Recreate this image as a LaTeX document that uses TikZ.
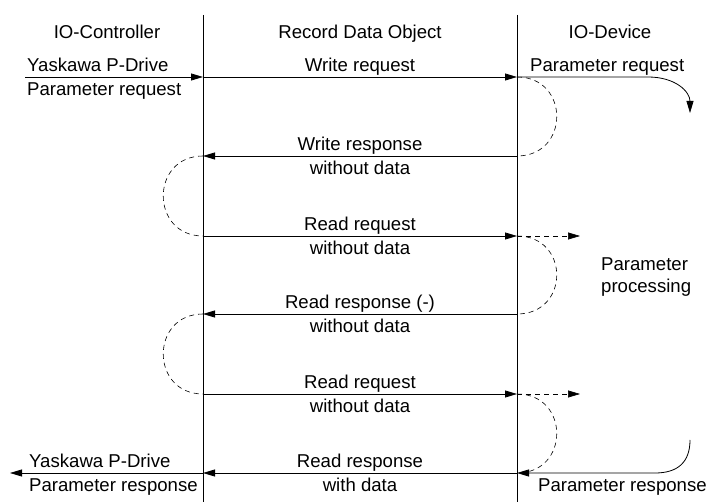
\documentclass[tikz,border=0pt]{standalone}
\usepackage{fontspec}
\setmainfont{Liberation Sans}
\usetikzlibrary{arrows.meta,positioning}

\tikzset{
  msg/.style={-{Triangle[length=12pt,width=7pt]}, line width=0.8pt},
  loopback/.style={dash pattern=on 5pt off 4pt, line width=0.6pt},
  lbl/.style={font=\fontsize{18.6}{22}\selectfont, inner sep=2pt, text height=13.5pt, text depth=3.5pt},
}

\begin{document}
\begin{tikzpicture}[x=1pt,y=-1pt]
\useasboundingbox (0,0) rectangle (707,502);
% The headers
\node[lbl] (ctrl) at (107,34) {IO-Controller};
\node[lbl] (rdo) at (360,34) {Record Data Object};
\node[lbl] (dev) at (610,34) {IO-Device};
% The lifelines
\coordinate (ctop) at (203,15);
\coordinate (cbot) at (203,502);
\coordinate (dtop) at (517,15);
\coordinate (dbot) at (517,502);
\draw[line width=0.8pt] (ctop) -- (cbot);
\draw[line width=0.8pt] (dtop) -- (dbot);
\foreach \i/\y in {1/77,2/156,3/236,4/314,5/394,6/473}
{
  \coordinate (c\i) at (203,\y);
  \coordinate (d\i) at (517,\y);
}
% The messages
\draw[msg] (c1) -- node[lbl,above] (m1a) {Write request} (d1);
\draw[msg] (d2) -- node[lbl,above] (m2a) {Write response}
  node[lbl,below=2.5pt] (m2b) {without data} (c2);
\draw[msg] (c3) -- node[lbl,above] (m3a) {Read request}
  node[lbl,below=2.5pt] (m3b) {without data} (d3);
\draw[msg] (d4) -- node[lbl,above] (m4a) {Read response (-)}
  node[lbl,below=2.5pt] (m4b) {without data} (c4);
\draw[msg] (c5) -- node[lbl,above] (m5a) {Read request}
  node[lbl,below=2.5pt] (m5b) {without data} (d5);
\draw[msg] (d6) -- node[lbl,above] (m6a) {Read response}
  node[lbl,below=2.5pt] (m6b) {with data} (c6);
% The controller side
\coordinate (pin) at (25,77);
\coordinate (pout) at (10,473);
\draw[msg] (pin) -- (c1);
\draw[msg] (c6) -- (pout);
\node[lbl,anchor=south west] (yin) at (pin) {Yaskawa P-Drive};
\node[lbl,anchor=north west,yshift=-2.5pt] (prq) at (pin) {Parameter request};
\node[lbl,anchor=south west] (yout) at (27,473) {Yaskawa P-Drive};
\node[lbl,anchor=north west,yshift=-2.5pt] (prs) at (27,473) {Parameter response};
% The device side
\coordinate (preq) at (690,113);
\coordinate (pres) at (690,440);
\coordinate (fw1) at (580,236);
\coordinate (fw2) at (580,394);
\draw[msg] (d1) -- (648,77) .. controls (676,77) and (690,92) .. (preq);
\draw[msg] (pres) .. controls (690,462) and (678,473) .. (655,473) -- (d6);
\draw[msg,loopback] (d3) -- (fw1);
\draw[msg,loopback] (d5) -- (fw2);
\node[lbl,anchor=south west] (drq) at (528,77) {Parameter request};
\node[lbl,anchor=north west,yshift=-2.5pt] (drs) at (536,473) {Parameter response};
\node[font=\fontsize{18.6}{22}\selectfont,align=left,anchor=west,inner sep=0pt] (proc) at (601,277) {Parameter\\processing};
% The dashed loops
\draw[loopback] (d1) .. controls +(53,0) and +(53,0) .. (d2);
\draw[loopback] (d3) .. controls +(53,0) and +(53,0) .. (d4);
\draw[loopback] (d5) .. controls +(53,0) and +(53,0) .. (d6);
\draw[loopback] (c2) .. controls +(-53,0) and +(-53,0) .. (c3);
\draw[loopback] (c4) .. controls +(-53,0) and +(-53,0) .. (c5);
\end{tikzpicture}
\end{document}
